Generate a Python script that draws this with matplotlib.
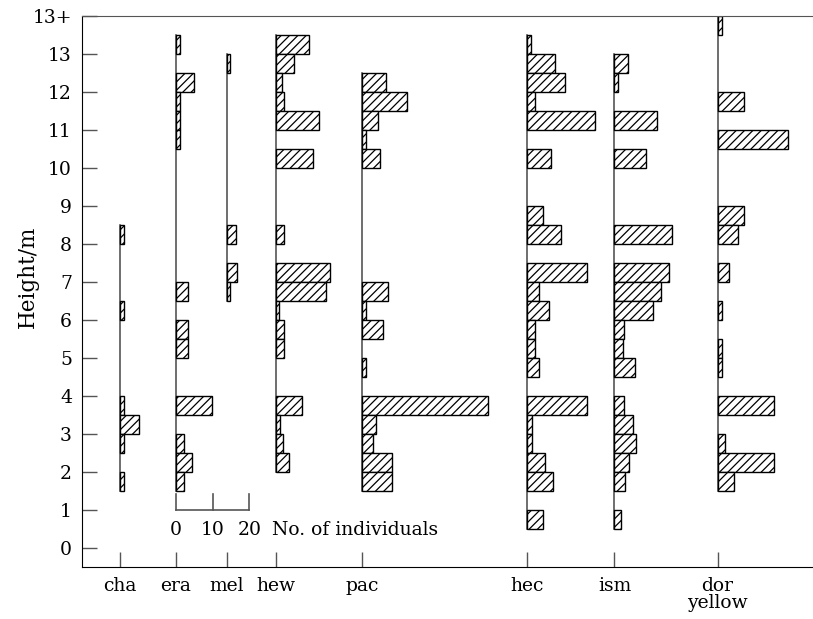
import matplotlib
matplotlib.use("Agg")
import matplotlib.pyplot as plt

plt.rcParams['font.family'] = ['DejaVu Serif']
plt.rcParams['hatch.linewidth'] = 0.9

# Species (columns) and their bottom-axis labels
species = ["cha", "era", "mel", "hew", "pac", "hec", "ism", "dor"]
species_labels = ["cha", "era", "mel", "hew", "pac", "hec", "ism", "dor\nyellow"]

# Lower edge of each 0.5 m height class -> number of individuals
cha_heights = [8.0, 6.0, 3.5, 3.0, 2.5, 1.5]
cha_counts = [1, 1, 1, 5.3, 1, 1]

era_heights = [13.0, 12.0, 11.5, 11.0, 10.5, 6.5, 5.5, 5.0, 3.5, 2.5, 2.0, 1.5]
era_counts = [1, 4.8, 1, 1, 1, 3.4, 3.4, 3.4, 9.8, 2.1, 4.4, 2.1]

mel_heights = [12.5, 8.0, 7.0, 6.5]
mel_counts = [1, 2.5, 2.8, 1]

hew_heights = [13.0, 12.5, 12.0, 11.5, 11.0, 10.0, 8.0, 7.0, 6.5, 6.0, 5.5, 5.0, 3.5, 3.0, 2.5, 2.0]
hew_counts = [9.0, 4.9, 1.6, 2.4, 11.8, 10.3, 2.4, 14.8, 13.6, 1, 2.4, 2.4, 7.1, 1.3, 2.1, 3.6]

pac_heights = [12.0, 11.5, 11.0, 10.5, 10.0, 6.5, 6.0, 5.5, 4.5, 3.5, 3.0, 2.5, 2.0, 1.5]
pac_counts = [6.6, 12.2, 4.5, 1, 4.9, 7.1, 1, 5.9, 1, 34.5, 3.8, 3.0, 8.1, 8.1]

hec_heights = [13.0, 12.5, 12.0, 11.5, 11.0, 10.0, 8.5, 8.0, 7.0, 6.5, 6.0, 5.5, 5.0, 4.5,
               3.5, 3.0, 2.5, 2.0, 1.5, 0.5]
hec_counts = [1, 7.7, 10.3, 2.1, 18.5, 6.6, 4.3, 9.3, 16.4, 3.2, 6.1, 2.1, 2.1, 3.2,
              16.4, 1.3, 1.3, 5.0, 7.0, 4.3]

ism_heights = [12.5, 12.0, 11.0, 10.0, 8.0, 7.0, 6.5, 6.0, 5.5, 5.0, 4.5, 3.5, 3.0, 2.5, 2.0, 1.5, 0.5]
ism_counts = [3.7, 1, 11.6, 8.7, 15.6, 14.9, 12.7, 10.5, 2.6, 2.3, 5.5, 2.6, 5.1, 5.8, 4.0, 3.0, 1.9]

dor_heights = [13.5, 11.5, 10.5, 8.5, 8.0, 7.0, 6.0, 5.0, 4.5, 3.5, 2.5, 2.0, 1.5]
dor_counts = [1.3, 7.3, 19.3, 7.3, 5.7, 3.0, 1.3, 1.3, 1.3, 15.5, 2.0, 15.5, 4.5]

heights = [cha_heights, era_heights, mel_heights, hew_heights, pac_heights,
           hec_heights, ism_heights, dor_heights]
counts = [cha_counts, era_counts, mel_counts, hew_counts, pac_counts,
          hec_counts, ism_counts, dor_counts]

# Layout: baseline of each column on the x axis (in units of individuals)
col_pos = [10.4, 25.7, 39.5, 52.9, 76.4, 121.4, 145.3, 173.4]
bin_size = 0.5

ytick_vals = list(range(0, 15))
ytick_labels = [str(v) for v in range(0, 14)] + ["13+"]

scale_ticks = [0, 10, 20]

FS = 13.5

fig = plt.figure(figsize=(8.13, 6.19), dpi=100)
ax = fig.add_axes([0.1005, 0.0835, 0.902, 0.890])

for pos, hs, cs in zip(col_pos, heights, counts):
    lo = min(hs)
    hi = max(hs) + bin_size
    ax.plot([pos, pos], [lo, hi], color="#555555", lw=1.2, zorder=1)
    ax.barh([h + bin_size / 2 for h in hs], cs, height=bin_size, left=pos,
            facecolor="white", edgecolor="black", hatch="////", linewidth=1.0, zorder=2)

# scale bar
sx = col_pos[1]
ax.plot([sx + scale_ticks[0], sx + scale_ticks[-1]], [1.0, 1.0], color="#555555", lw=1.2)
for t in scale_ticks:
    ax.plot([sx + t, sx + t], [1.0, 1.42], color="#555555", lw=1.2)
    ax.text(sx + t, 0.48, str(t), ha="center", va="center", fontsize=FS)
ax.text(sx + scale_ticks[-1] + 6.3, 0.48, "No. of individuals", ha="left", va="center", fontsize=FS)

ax.set_xlim(0, 200)
ax.set_ylim(-0.5, 14)
ax.set_yticks(ytick_vals)
ax.set_yticklabels(ytick_labels, fontsize=FS)
ax.set_xticks(col_pos)
ax.set_xticklabels(species_labels, fontsize=FS, linespacing=0.9)
ax.tick_params(axis="y", direction="in", length=11, width=1.0, color="#555555", pad=7)
ax.tick_params(axis="x", direction="in", length=11, width=1.0, color="#555555", pad=7)
ax.yaxis.set_ticks_position("left")
ax.xaxis.set_ticks_position("bottom")
ax.spines["right"].set_visible(False)
ax.spines["top"].set_color("#555555")
ax.spines["left"].set_color("black")
ax.spines["bottom"].set_color("black")

fig.text(28 / 813, 1 - 277 / 619, "Height/m", rotation=90, ha="center", va="center",
         fontsize=15.5)

fig.savefig("out.png", dpi=100)
